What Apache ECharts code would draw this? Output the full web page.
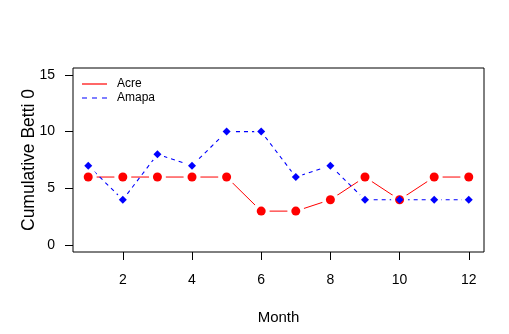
<!DOCTYPE html>
<html>
<head>
<meta charset="utf-8">
<script src="https://cdn.jsdelivr.net/npm/echarts@6/dist/echarts.min.js"></script>
<style>
  html, body { margin: 0; padding: 0; background: #fff; }
  #chart { width: 509px; height: 334px; }
</style>
</head>
<body>
<div id="chart"></div>
<script>
// data
var months = [1, 2, 3, 4, 5, 6, 7, 8, 9, 10, 11, 12];
var acre = [6, 6, 6, 6, 6, 3, 3, 4, 6, 4, 6, 6];
var amapa = [7, 4, 8, 7, 10, 10, 6, 7, 4, 4, 4, 4];
var xTicks = [2, 4, 6, 8, 10, 12];
var yTicks = [0, 5, 10, 15];

var font = "'Liberation Sans', Arial, sans-serif";

function pairs(vals) {
  return months.map(function (m, i) { return [m, vals[i]]; });
}

var chart = echarts.init(document.getElementById("chart"), null, { renderer: "canvas" });

// R type="b": line, white disc behind each point to leave the gap, then the point
var option = {
  animation: false,
  backgroundColor: "#fff",
  textStyle: { fontFamily: font, color: "#000" },
  grid: {
    left: 73, top: 68, width: 411, height: 184,
    show: true, borderColor: "#000", borderWidth: 1, backgroundColor: "transparent"
  },
  legend: {
    orient: "vertical",
    left: 77, top: 72,
    itemWidth: 25, itemHeight: 1.2, itemGap: 0,
    symbolKeepAspect: false,
    data: [
      { name: "Acre", icon: "path://M0,0h25v1h-25z" },
      { name: "Amapa", icon: "path://M0,0h4v1h-4zM8,0h4v1h-4zM16,0h4v1h-4z" }
    ],
    textStyle: { fontFamily: font, fontSize: 12, lineHeight: 14, color: "#000", padding: [0, 0, 0, 5] }
  },
  xAxis: {
    type: "value",
    min: 0.56, max: 12.44,
    name: "Month", nameLocation: "middle", nameGap: 58, nameMoveOverlap: false,
    nameTextStyle: { fontFamily: font, fontSize: 15, color: "#000" },
    axisLine: { show: false, onZero: false },
    axisTick: { show: true, inside: false, length: 8, customValues: xTicks, lineStyle: { color: "#000" } },
    axisLabel: { customValues: xTicks, margin: 21, fontSize: 14, fontFamily: font, color: "#000" },
    splitLine: { show: false }
  },
  yAxis: {
    type: "value",
    min: -0.6, max: 15.6,
    name: "Cumulative Betti 0", nameLocation: "middle", nameGap: 35, nameRotate: 90, nameMoveOverlap: false,
    nameTextStyle: { fontFamily: font, fontSize: 17.5, color: "#000" },
    axisLine: { show: false, onZero: false },
    axisTick: { show: true, inside: false, length: 8, customValues: yTicks, lineStyle: { color: "#000" } },
    axisLabel: { customValues: yTicks, margin: 18, fontSize: 14, fontFamily: font, color: "#000" },
    splitLine: { show: false }
  },
  series: [
    {
      name: "Acre", type: "line", data: pairs(acre), symbol: "none", z: 2,
      lineStyle: { color: "#ff0000", width: 1 }, itemStyle: { color: "#ff0000" }
    },
    {
      name: "Amapa", type: "line", data: pairs(amapa), symbol: "none", z: 2,
      lineStyle: { color: "#0000ff", width: 1.1, type: [4, 4] }, itemStyle: { color: "#0000ff" }
    },
    {
      name: "acreGap", type: "scatter", data: pairs(acre), symbol: "circle", symbolSize: 17, z: 3,
      itemStyle: { color: "#fff", opacity: 1 }, silent: true
    },
    {
      name: "amapaGap", type: "scatter", data: pairs(amapa), symbol: "circle", symbolSize: 14, z: 3,
      itemStyle: { color: "#fff", opacity: 1 }, silent: true
    },
    {
      name: "acrePts", type: "scatter", data: pairs(acre), symbol: "circle", symbolSize: 9, z: 4,
      itemStyle: { color: "#ff0000", opacity: 1 }
    },
    {
      name: "amapaPts", type: "scatter", data: pairs(amapa), symbol: "diamond", symbolSize: 8, z: 5,
      itemStyle: { color: "#0000ff", opacity: 1 }
    }
  ]
};

chart.setOption(option);
</script>
</body>
</html>
